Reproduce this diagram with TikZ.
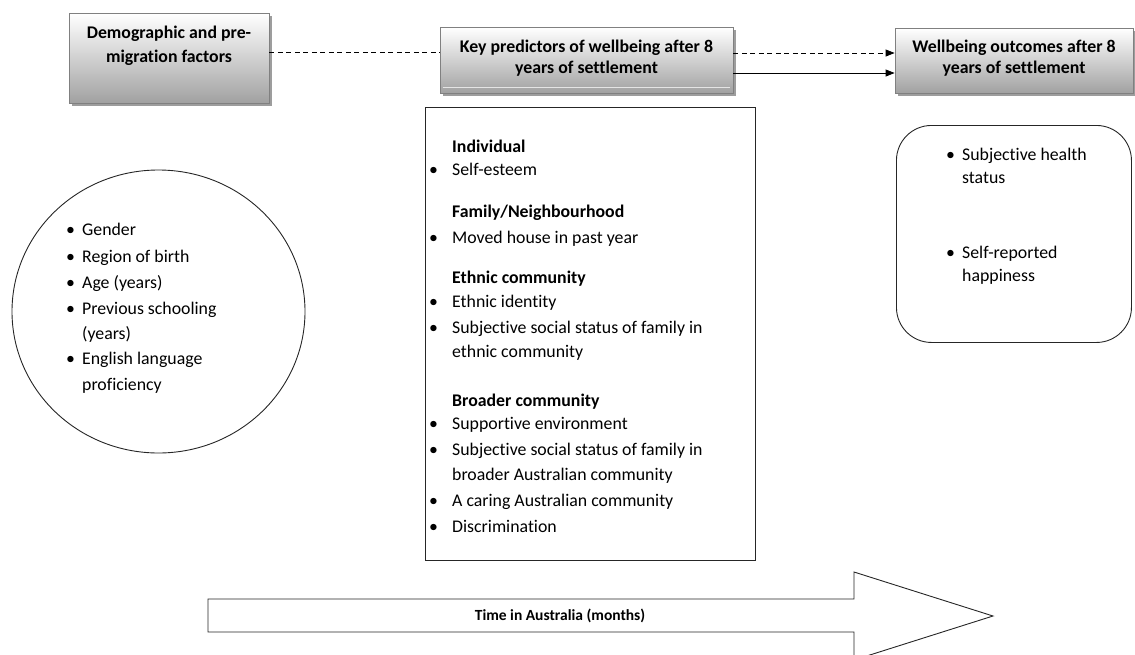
\documentclass[tikz,border=0pt]{standalone}
\usepackage{fontspec}
\setmainfont{Carlito}[Ligatures=NoCommon]
\usetikzlibrary{shapes.geometric,shadows,calc,arrows.meta}
\begin{document}
\begin{tikzpicture}[x=1pt,y=-1pt,
  fs/.style={font=\fontsize{17.8}{21}\selectfont},
  titlebox/.style={draw=black!50, line width=0.8pt, top color=white, bottom color=black!37,
    drop shadow={shadow xshift=3pt,shadow yshift=-3pt,fill=black!55,opacity=0.7},
    inner sep=0pt, anchor=north, font=\fontsize{17.8}{21}\selectfont\bfseries},
  tx/.style={anchor=base west, inner sep=0pt, fs},
  hd/.style={tx, font=\fontsize{17.8}{21}\selectfont\bfseries},
  frame/.style={draw=black!85, line width=0.9pt},
  link/.style={line width=0.8pt},
  dsh/.style={dash pattern=on 5pt off 3.5pt},
  tip/.style={-{Triangle[length=9pt,width=7pt]}}
]
\useasboundingbox (0,0) rectangle (1135,654);

% title boxes
\node[titlebox, minimum width=200pt, text height=25pt, text depth=65pt] (b1) at (169,13)
  {\begin{tabular}[t]{@{}c@{}}Demographic and pre-\\[3pt]migration factors\end{tabular}};
\node[titlebox, minimum width=293pt, text height=25pt, text depth=41pt] (b2) at (586.5,27)
  {\begin{tabular}[t]{@{}c@{}}Key predictors of wellbeing after 8\\years of settlement\end{tabular}};
\node[titlebox, minimum width=238pt, text height=24pt, text depth=41pt] (b3) at (1014,28)
  {\begin{tabular}[t]{@{}c@{}}Wellbeing outcomes after 8\\years of settlement\end{tabular}};
\draw[white!80!gray, line width=0.8pt] ($(b2.south west)+(3,-6)$) -- ($(b2.south east)+(-3,-6)$);

% connectors
\coordinate (d1) at ($(b1.north east)+(0,39)$);
\coordinate (d2) at ($(b2.north east)+(0,26)$);
\coordinate (d3) at ($(b2.north east)+(0,46)$);
\draw[link, dsh] (d1) -- (d1 -| b2.west);
\draw[link, dsh, tip] (d2) -- (d2 -| b3.west);
\draw[link, tip] (d3) -- (d3 -| b3.west);

% containers
\node[frame, minimum width=330pt, minimum height=453pt, anchor=north west, inner sep=0pt] (mid) at (425,107) {};
\node[frame, ellipse, minimum width=293pt, minimum height=283pt, inner sep=0pt] (circ) at (158.5,311.5) {};
\node[frame, rounded corners=35pt, minimum width=235pt, minimum height=217pt, anchor=north west, inner sep=0pt] (out) at (896,125) {};

% middle box text
\node[hd] (h1) at (452,152) {Individual};
\node[tx] (mb1) at (429,175) {\textbullet};
\node[tx] (m1) at (452,175) {Self-esteem};
\node[hd] (h2) at (452,217) {Family/Neighbourhood};
\node[tx] (mb2) at (429,243) {\textbullet};
\node[tx] (m2) at (452,243) {Moved house in past year};
\node[hd] (h3) at (452,283) {Ethnic community};
\node[tx] (mb3) at (429,307) {\textbullet};
\node[tx] (m3) at (452,307) {Ethnic identity};
\node[tx] (mb4) at (429,333) {\textbullet};
\node[tx] (m4) at (452,333) {Subjective social status of family in};
\node[tx] (m4b) at (452,357) {ethnic community};
\node[hd] (h4) at (452,406) {Broader community};
\node[tx] (mb5) at (429,429) {\textbullet};
\node[tx] (m5) at (452,429) {Supportive environment};
\node[tx] (mb6) at (429,455) {\textbullet};
\node[tx] (m6) at (452,455) {Subjective social status of family in};
\node[tx] (m6b) at (452,480) {broader Australian community};
\node[tx] (mb7) at (429,506) {\textbullet};
\node[tx] (m7) at (452,506) {A caring Australian community};
\node[tx] (mb8) at (429,532) {\textbullet};
\node[tx] (m8) at (452,532) {Discrimination};

% circle text
\node[tx] (cb1) at (66,235) {\textbullet};
\node[tx] (c1) at (82,235) {Gender};
\node[tx] (cb2) at (66,262) {\textbullet};
\node[tx] (c2) at (82,262) {Region of birth};
\node[tx] (cb3) at (66,288) {\textbullet};
\node[tx] (c3) at (82,288) {Age (years)};
\node[tx] (cb4) at (66,314) {\textbullet};
\node[tx] (c4) at (82,314) {Previous schooling};
\node[tx] (c4b) at (82,339) {(years)};
\node[tx] (cb5) at (66,364) {\textbullet};
\node[tx] (c5) at (82,364) {English language};
\node[tx] (c5b) at (82,390) {proficiency};

% outcome text
\node[tx] (ob1) at (946,160) {\textbullet};
\node[tx] (o1) at (962,160) {Subjective health};
\node[tx] (o1b) at (962,183) {status};
\node[tx] (ob2) at (946,258) {\textbullet};
\node[tx] (o2) at (962,258) {Self-reported};
\node[tx] (o2b) at (962,281) {happiness};

% time arrow
\draw[frame] (208,599) -- (854,599) -- (854,572) -- (993,616) -- (854,660) -- (854,632) -- (208,632) -- cycle;
\node[font=\fontsize{15.5}{18}\selectfont\bfseries, inner sep=0pt] (time) at (560,616) {Time in Australia (months)};
\end{tikzpicture}
\end{document}
